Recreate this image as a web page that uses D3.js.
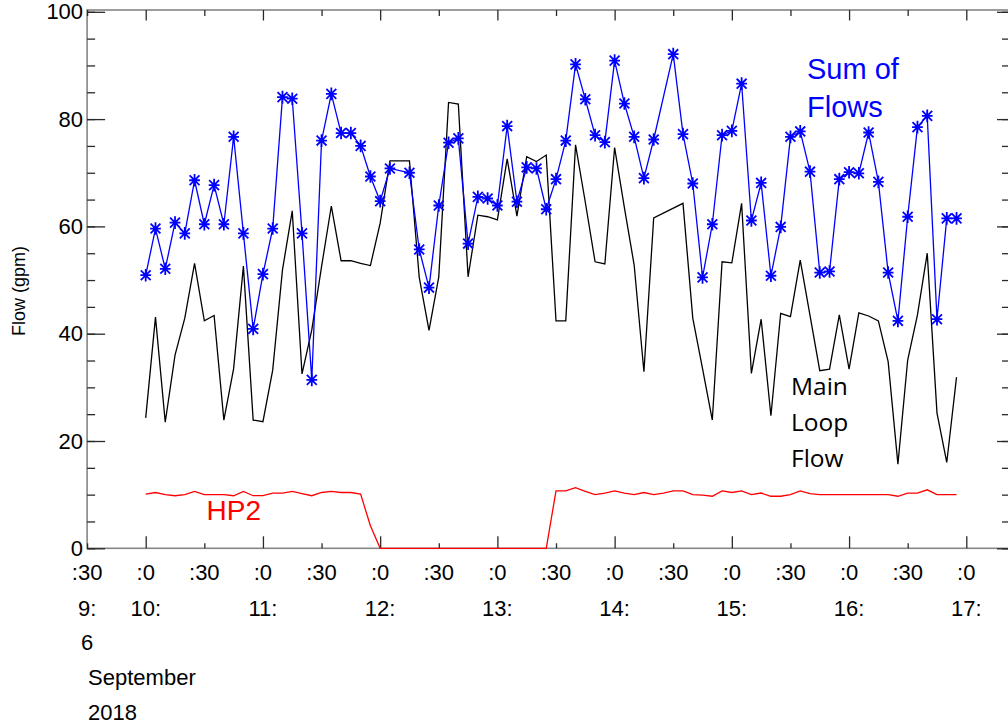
<!DOCTYPE html>
<html>
<head>
  <meta charset="utf-8">
  <title>Flow (gpm) - 6 September 2018</title>
  <script src="https://d3js.org/d3.v7.min.js"></script>
  <style>
    body { margin: 0; background: #fff; }
    text { font-family: "Liberation Sans", Arial, sans-serif; }
  </style>
</head>
<body>
<script>
// sample times, every 5 min (some samples missing -> null)
var times = [
  "10:00","10:05","10:10","10:15","10:20","10:25","10:30","10:35","10:40","10:45","10:50","10:55",
  "11:00","11:05","11:10","11:15","11:20","11:25","11:30","11:35","11:40","11:45","11:50","11:55",
  "12:00","12:05","12:10","12:15","12:20","12:25","12:30","12:35","12:40","12:45","12:50","12:55",
  "13:00","13:05","13:10","13:15","13:20","13:25","13:30","13:35","13:40","13:45","13:50","13:55",
  "14:00","14:05","14:10","14:15","14:20","14:25","14:30","14:35","14:40","14:45","14:50","14:55",
  "15:00","15:05","15:10","15:15","15:20","15:25","15:30","15:35","15:40","15:45","15:50","15:55",
  "16:00","16:05","16:10","16:15","16:20","16:25","16:30","16:35","16:40","16:45","16:50","16:55"
];

// Sum of Flows (blue, asterisks)
var sumFlows = [
  50.9, 59.6, 52.1, 60.7, 58.7, 68.6, 60.4, 67.7, 60.4, 76.7, 58.7, 40.9,
  51.1, 59.6, 84.1, 83.8, 58.7, 31.4, 76.0, 84.7, 77.4, 77.4, 75.0, 69.3,
  64.7, 70.8, null, 70.0, 55.7, 48.6, 63.9, 75.6, 76.4, 56.8, 65.5, 65.2,
  63.9, 78.7, 64.6, 71.0, 70.8, 63.2, 68.8, 76.0, 90.2, 83.7, 77.0, 75.7,
  90.9, 82.9, 76.7, 69.0, 76.2, null, 92.1, 77.2, 68.0, 50.5, 60.4, 77.0,
  77.8, 86.6, 61.1, 68.1, 50.8, 59.9, 76.7, 77.7, 70.2, 51.4, 51.6, 68.8,
  70.1, 69.9, 77.5, 68.3, 51.4, 42.4, 61.8, 78.5, 80.6, 42.7, 61.5, 61.5
];

// Main Loop Flow (black)
var mainLoop = [
  24.3, 43.1, 23.5, 36.0, 42.9, 53.1, 42.4, 43.4, 23.9, 33.5, 52.6, 23.9,
  23.6, 33.2, 51.9, 62.9, 32.5, 40.7, 52.5, 63.8, 53.6, 53.6, 53.1, 52.7,
  60.6, 72.2, 72.2, 72.2, 50.5, 40.6, 50.6, 83.1, 82.8, 50.6, 62.1, 61.8,
  61.2, 72.6, 61.9, 73.0, 72.1, 73.3, 42.4, 42.4, 75.2, 64.5, 53.4, 53.0,
  74.7, 63.5, 52.8, 32.9, 61.6, null, null, 64.3, 42.9, 33.5, 23.9, 53.4,
  53.2, 64.3, 32.6, 42.7, 24.7, 43.8, 43.2, 53.7, 43.4, 33.1, 33.4, 43.5,
  33.4, 43.9, 43.3, 42.4, 34.8, 15.7, 35.1, 43.5, 55.0, 25.2, 16.0, 31.9
];

// HP2 (red)
var hp2 = [
  10.1, 10.4, 10.0, 9.8, 10.0, 10.6, 10.0, 10.0, 10.0, 9.8, 10.6, 9.8,
  9.8, 10.3, 10.3, 10.6, 10.2, 9.8, 10.4, 10.6, 10.4, 10.4, 10.1, 4.2,
  0, 0, 0, 0, 0, 0, 0, 0, 0, 0, 0, 0,
  0, 0, 0, 0, 0, 0, 10.7, 10.7, 11.3, 10.6, 10.0, 10.3,
  10.7, 10.3, 10.0, 10.4, 10.0, 10.3, 10.7, 10.7, 10.0, 9.9, 9.7, 10.7,
  10.4, 10.7, 10.0, 10.3, 9.7, 9.7, 10.0, 10.7, 10.2, 10.0, 10.0, 10.0,
  10.0, 10.0, 10.0, 10.0, 10.0, 9.7, 10.3, 10.3, 10.9, 10.0, 10.0, 10.0
];

// axis ticks and labels
var halfHourTicks = ["9:30","10:00","10:30","11:00","11:30","12:00","12:30","13:00",
                     "13:30","14:00","14:30","15:00","15:30","16:00","16:30","17:00"];
var hourLabelTicks = ["9:30","10:00","11:00","12:00","13:00","14:00","15:00","16:00","17:00"];
var hourLabels = ["9:","10:","11:","12:","13:","14:","15:","16:","17:"];
var dateLabels = ["6","September","2018"];
var yMajor = [0, 20, 40, 60, 80, 100];
var yMinor = d3.range(0, 101, 5);

// layout
var width = 1008, height = 725;
var pLeft = 87.1, pRight = 1010, pTop = 10, pBottom = 548.3;

function parseT(s) {
  var p = s.split(":").map(Number);
  return new Date(2018, 8, 6, p[0], p[1]);
}

var x = d3.scaleTime()
  .domain([parseT("9:30"), new Date(2018, 8, 6, 17, 22, 22)])
  .range([pLeft, pRight]);
var y = d3.scaleLinear().domain([0, 100]).range([pBottom, 11.8]);

var svg = d3.select("body").append("svg")
  .attr("width", width).attr("height", height)
  .style("display", "block").style("overflow", "hidden");

// frame
svg.append("rect")
  .attr("x", pLeft).attr("y", pTop)
  .attr("width", pRight - pLeft).attr("height", pBottom - pTop)
  .attr("fill", "none").attr("stroke", "#858585").attr("stroke-width", 1.6);

function tickStyle(g) {
  g.select(".domain").remove();
  g.selectAll(".tick line").attr("stroke", "#2a2a2a").attr("stroke-width", 1.3);
  g.selectAll(".tick text").remove();
}

// left axis
svg.append("g").attr("transform", "translate(" + pLeft + ",0)")
  .call(d3.axisLeft(y).tickValues(yMinor).tickSizeInner(-8).tickSizeOuter(0))
  .call(tickStyle);
var gl = svg.append("g").attr("transform", "translate(" + pLeft + ",0)")
  .call(d3.axisLeft(y).tickValues(yMajor).tickSizeInner(-18).tickSizeOuter(0).tickPadding(4));
gl.select(".domain").remove();
gl.selectAll(".tick line").attr("stroke", "#2a2a2a").attr("stroke-width", 1.3);
gl.selectAll(".tick text")
  .attr("font-family", "Liberation Sans, Arial, sans-serif")
  .attr("font-size", 22).attr("fill", "#000");

// right axis
svg.append("g").attr("transform", "translate(" + pRight + ",0)")
  .call(d3.axisRight(y).tickValues(yMinor).tickSizeInner(-8).tickSizeOuter(0))
  .call(tickStyle);
svg.append("g").attr("transform", "translate(" + pRight + ",0)")
  .call(d3.axisRight(y).tickValues(yMajor).tickSizeInner(-13).tickSizeOuter(0))
  .call(tickStyle);

// bottom and top time axes
var halfT = halfHourTicks.map(parseT);
var fullT = halfT.filter(function(d) { return d.getMinutes() === 0; });
var midT = halfT.filter(function(d) { return d.getMinutes() !== 0; });

svg.append("g").attr("transform", "translate(0," + pBottom + ")")
  .call(d3.axisBottom(x).tickValues(fullT).tickSizeInner(-12).tickSizeOuter(0)).call(tickStyle);
svg.append("g").attr("transform", "translate(0," + pBottom + ")")
  .call(d3.axisBottom(x).tickValues(midT).tickSizeInner(-5).tickSizeOuter(0)).call(tickStyle);
svg.append("g").attr("transform", "translate(0," + pTop + ")")
  .call(d3.axisTop(x).tickValues(fullT).tickSizeInner(-10.5).tickSizeOuter(0)).call(tickStyle);
svg.append("g").attr("transform", "translate(0," + pTop + ")")
  .call(d3.axisTop(x).tickValues(midT).tickSizeInner(-6).tickSizeOuter(0)).call(tickStyle);

// x tick label rows
svg.append("g").selectAll("text").data(halfT).join("text")
  .attr("x", function(d) { return x(d); }).attr("y", 579.5)
  .attr("text-anchor", "middle").attr("font-size", 22)
  .text(function(d) { return d.getMinutes() === 0 ? ":0" : ":30"; });

svg.append("g").selectAll("text").data(hourLabelTicks).join("text")
  .attr("x", function(d) { return x(parseT(d)); }).attr("y", 615.5)
  .attr("text-anchor", "middle").attr("font-size", 22)
  .text(function(d, i) { return hourLabels[i]; });

var x0 = x(parseT(halfHourTicks[0]));
svg.append("g").selectAll("text").data(dateLabels).join("text")
  .attr("x", function(d, i) { return i === 0 ? x0 : x0 + 1; })
  .attr("y", function(d, i) { return 650 + i * 35; })
  .attr("text-anchor", function(d, i) { return i === 0 ? "middle" : "start"; })
  .attr("font-size", 22)
  .text(function(d) { return d; });

// y title
svg.append("text")
  .attr("transform", "translate(25,291) rotate(-90)")
  .attr("text-anchor", "middle").attr("font-size", 18)
  .text("Flow (gpm)");

// series
function pts(vals) {
  return times.map(function(t, i) { return { t: parseT(t), v: vals[i] }; })
    .filter(function(d) { return d.v !== null; });
}
var line = d3.line().x(function(d) { return x(d.t); }).y(function(d) { return y(d.v); });

svg.append("path").datum(pts(hp2))
  .attr("d", line).attr("fill", "none").attr("stroke", "#ff0000").attr("stroke-width", 1.3);
svg.append("path").datum(pts(mainLoop))
  .attr("d", line).attr("fill", "none").attr("stroke", "#000").attr("stroke-width", 1.3);
var sumPts = pts(sumFlows);
svg.append("path").datum(sumPts)
  .attr("d", line).attr("fill", "none").attr("stroke", "#0000ff").attr("stroke-width", 1.3);

// IDL-style asterisk
var asterisk = {
  draw: function(ctx, size) {
    var r = Math.sqrt(size) / 2, d = r * 0.78;
    ctx.moveTo(0, -r); ctx.lineTo(0, r);
    ctx.moveTo(-r * 0.85, 0); ctx.lineTo(r * 0.85, 0);
    ctx.moveTo(-d, -d); ctx.lineTo(d, d);
    ctx.moveTo(-d, d); ctx.lineTo(d, -d);
  }
};
svg.append("g").selectAll("path").data(sumPts).join("path")
  .attr("transform", function(d) { return "translate(" + x(d.t) + "," + y(d.v) + ")"; })
  .attr("d", d3.symbol().type(asterisk).size(160))
  .attr("fill", "none").attr("stroke", "#0000ff").attr("stroke-width", 1.8);

// annotations
svg.append("text").attr("x", 807).attr("y", 78.5).attr("font-size", 29).attr("fill", "#0000ff").text("Sum of");
svg.append("text").attr("x", 807).attr("y", 116.7).attr("font-size", 29).attr("fill", "#0000ff").text("Flows");

var mlf = ["Main", "Loop", "Flow"];
svg.append("g").selectAll("text").data(mlf).join("text")
  .attr("x", 791).attr("y", function(d, i) { return 395 + i * 36; })
  .style("font-family", "'Open Sans', Lato, sans-serif").attr("font-size", 24.5)
  .text(function(d) { return d; });

svg.append("text").attr("x", 206.5).attr("y", 520).attr("font-size", 28).attr("fill", "#ff0000").text("HP2");
</script>
</body>
</html>
